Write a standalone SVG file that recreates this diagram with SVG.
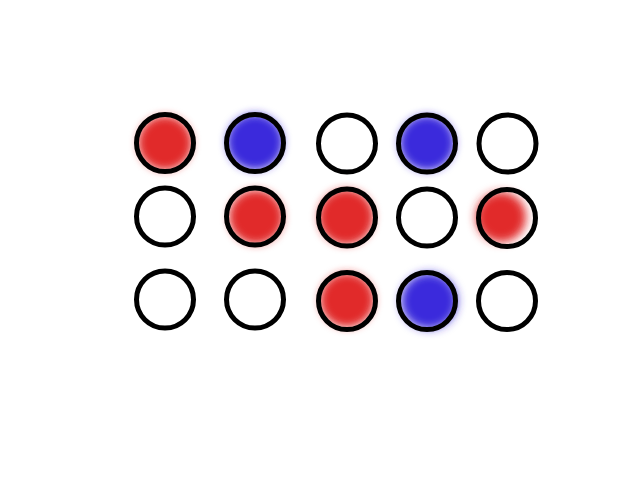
<svg xmlns="http://www.w3.org/2000/svg" width="639" height="479" viewBox="0 0 639 479">
<defs>
<filter id="blur" x="-50%" y="-50%" width="200%" height="200%"><feGaussianBlur stdDeviation="4"/></filter>
<filter id="blur2" x="-50%" y="-50%" width="200%" height="200%"><feGaussianBlur stdDeviation="5"/></filter>
</defs>
<style>
.ring{fill:none;stroke:#000;stroke-width:5}
.red{fill:#e12b2b;filter:url(#blur)}
.blue{fill:#3a2cdc;filter:url(#blur)}
</style>
<rect width="639" height="479" fill="#fff"/>
<g id="fills">
<circle class="red" cx="165" cy="143" r="27"/>
<circle class="blue" cx="255" cy="142" r="28"/>
<circle class="blue" cx="427" cy="143" r="27.5"/>
<circle class="red" cx="256" cy="217" r="27"/>
<circle class="red" cx="346" cy="217" r="27.5"/>
<circle class="red" cx="501" cy="217" r="25" style="filter:url(#blur2)"/>
<circle class="red" cx="347" cy="300" r="27"/>
<circle class="blue" cx="429" cy="301" r="28" style="filter:url(#blur2)"/>
</g>
<g id="r1c1"><circle class="ring" cx="165" cy="143" r="28.5"/></g>
<g id="r1c2"><circle class="ring" cx="255" cy="143" r="28.5"/></g>
<g id="r1c3"><circle class="ring" cx="347" cy="143.5" r="28.5"/></g>
<g id="r1c4"><circle class="ring" cx="427" cy="143.5" r="28.5"/></g>
<g id="r1c5"><circle class="ring" cx="507.5" cy="143.5" r="28.5"/></g>
<g id="r2c1"><circle class="ring" cx="165" cy="216.5" r="28.5"/></g>
<g id="r2c2"><circle class="ring" cx="255" cy="216.5" r="28.5"/></g>
<g id="r2c3"><circle class="ring" cx="347" cy="217.5" r="28.5"/></g>
<g id="r2c4"><circle class="ring" cx="427" cy="217.5" r="28.5"/></g>
<g id="r2c5"><circle class="ring" cx="507" cy="218" r="28.5"/></g>
<g id="r3c1"><circle class="ring" cx="165" cy="299.5" r="28.5"/></g>
<g id="r3c2"><circle class="ring" cx="255" cy="299.5" r="28.5"/></g>
<g id="r3c3"><circle class="ring" cx="347" cy="301" r="28.5"/></g>
<g id="r3c4"><circle class="ring" cx="427" cy="301" r="28.5"/></g>
<g id="r3c5"><circle class="ring" cx="507" cy="301" r="28.5"/></g>
<g id="connectors"/>
</svg>
